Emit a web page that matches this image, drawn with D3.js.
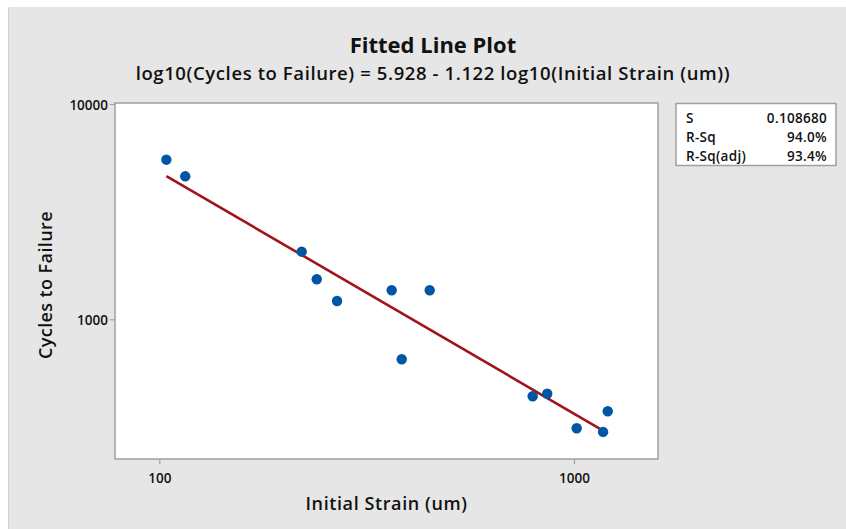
<!DOCTYPE html>
<html>
<head>
<meta charset="utf-8">
<script src="https://cdn.jsdelivr.net/npm/d3@7"></script>
<style>
  body { margin: 0; background: #fff; }
  text { font-family: "Open Sans", "Noto Sans", sans-serif; fill: #111; }
</style>
</head>
<body>
<div id="chart"></div>
<script>
// data
const strain = [104, 115.5, 220.5, 239.7, 268.3, 363.4, 448.8, 384.2, 795, 862, 1015, 1175, 1206];
const cycles = [5512, 4615, 2061, 1534, 1216, 1364, 1364, 652, 439, 451, 312, 300, 374];
const xTicks = [100, 1000];
const yTicks = [1000, 10000];
const statLabels = ['S', 'R-Sq', 'R-Sq(adj)'];
const statValues = ['0.108680', '94.0%', '93.4%'];
// fitted equation from the title
const intercept = 5.928;
const slope = -1.122;

const W = 846, H = 529;
const frame = { left: 115, right: 658, top: 103, bottom: 459 };

const svg = d3.select('#chart').append('svg')
  .attr('width', W)
  .attr('height', H);

// grey background
svg.append('rect')
  .attr('x', 8).attr('y', 7)
  .attr('width', W - 8).attr('height', H - 7)
  .attr('fill', '#e6e6e6');
svg.append('line')
  .attr('x1', 8.5).attr('x2', 8.5)
  .attr('y1', 7).attr('y2', H)
  .attr('stroke', '#d2d2d2')
  .attr('stroke-width', 1);

// scales
const x = d3.scaleLog().domain([100, 1000]).range([159.3, 574]);
const y = d3.scaleLog().domain([1000, 10000]).range([319.3, 104]);

// plot area
svg.append('rect')
  .attr('x', frame.left).attr('y', frame.top)
  .attr('width', frame.right - frame.left)
  .attr('height', frame.bottom - frame.top)
  .attr('fill', '#fff')
  .attr('stroke', '#a0a0a0')
  .attr('stroke-width', 1.5);

// axes
const xAxis = d3.axisBottom(x).tickValues(xTicks).tickFormat(d3.format('d')).tickSize(5).tickSizeOuter(0);
const yAxis = d3.axisLeft(y).tickValues(yTicks).tickFormat(d3.format('d')).tickSize(5).tickSizeOuter(0);

const gx = svg.append('g')
  .attr('transform', 'translate(0,' + frame.bottom + ')')
  .call(xAxis);
const gy = svg.append('g')
  .attr('transform', 'translate(' + frame.left + ',0)')
  .call(yAxis);

[gx, gy].forEach(g => {
  g.select('.domain').remove();
  g.selectAll('.tick line').attr('stroke', '#a0a0a0').attr('stroke-width', 1.2);
  g.selectAll('.tick text')
    .attr('fill', '#111')
    .style('font-size', '13.5px')
    .style('font-weight', 600)
    .style('font-family', '"Open Sans", sans-serif');
});
gx.selectAll('.tick text').attr('dy', null).attr('y', 19).attr('dominant-baseline', 'central');
gy.selectAll('.tick text').attr('dy', null).attr('x', -7).attr('dominant-baseline', 'central');

// fitted line
const xMin = d3.min(strain), xMax = d3.max(strain);
const fit = [xMin, xMax].map(v => [v, Math.pow(10, intercept + slope * Math.log10(v))]);
svg.append('path')
  .datum(fit)
  .attr('fill', 'none')
  .attr('stroke', '#a01418')
  .attr('stroke-width', 2.6)
  .attr('d', d3.line().x(d => x(d[0])).y(d => y(d[1])));

// points
svg.selectAll('circle.pt')
  .data(strain.map((s, i) => [s, cycles[i]]))
  .enter().append('circle')
    .attr('class', 'pt')
    .attr('cx', d => x(d[0]))
    .attr('cy', d => y(d[1]))
    .attr('r', 5.2)
    .attr('fill', '#0055a5');

// titles
svg.append('text')
  .attr('x', 433).attr('y', 44)
  .attr('text-anchor', 'middle')
  .attr('dominant-baseline', 'central')
  .style('font-size', '22px')
  .style('font-weight', 700)
  .text('Fitted Line Plot');

svg.append('text')
  .attr('x', 433).attr('y', 72)
  .attr('text-anchor', 'middle')
  .attr('dominant-baseline', 'central')
  .style('font-size', '18.5px')
  .style('letter-spacing', '0.6px')
  .style('font-weight', 600)
  .text('log10(Cycles to Failure) = 5.928 - 1.122 log10(Initial Strain (um))');

svg.append('text')
  .attr('x', (frame.left + frame.right) / 2).attr('y', 503)
  .attr('text-anchor', 'middle')
  .attr('dominant-baseline', 'central')
  .style('font-size', '18px')
  .style('letter-spacing', '0.6px')
  .style('font-weight', 600)
  .text('Initial Strain (um)');

svg.append('text')
  .attr('transform', 'translate(45,285) rotate(-90)')
  .attr('text-anchor', 'middle')
  .attr('dominant-baseline', 'central')
  .style('font-size', '18px')
  .style('letter-spacing', '0.4px')
  .style('font-weight', 600)
  .text('Cycles to Failure');

// stats box
const box = svg.append('g');
box.append('rect')
  .attr('x', 676).attr('y', 103.5)
  .attr('width', 160).attr('height', 62)
  .attr('fill', '#fff')
  .attr('stroke', '#a0a0a0')
  .attr('stroke-width', 1.5);

box.selectAll('text.lab')
  .data(statLabels)
  .enter().append('text')
    .attr('class', 'lab')
    .attr('x', 686)
    .attr('y', (d, i) => 117.5 + i * 19.3)
    .attr('dominant-baseline', 'central')
    .style('font-size', '13.5px')
    .style('letter-spacing', '0.3px')
    .style('font-weight', 600)
    .text(d => d);

box.selectAll('text.val')
  .data(statValues)
  .enter().append('text')
    .attr('class', 'val')
    .attr('x', 827)
    .attr('y', (d, i) => 117.5 + i * 19.3)
    .attr('text-anchor', 'end')
    .attr('dominant-baseline', 'central')
    .style('font-size', '13.5px')
    .style('letter-spacing', '0.3px')
    .style('font-weight', 600)
    .text(d => d);
</script>
</body>
</html>
